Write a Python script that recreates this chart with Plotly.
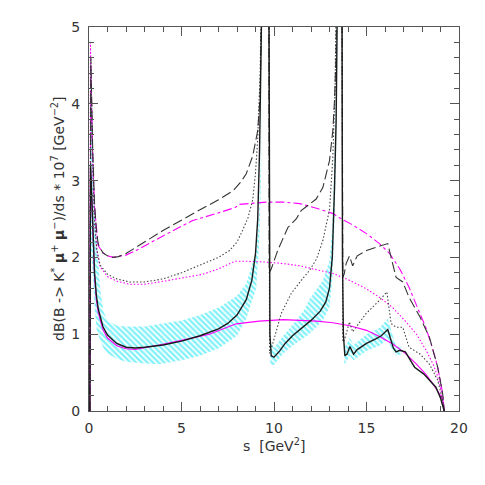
import plotly.graph_objects as go

# ---------------- data ----------------
# black solid: SM with resonances (central)
s_solid = [0.045, 0.06, 0.08, 0.12, 0.2, 0.3, 0.4, 0.5, 0.75, 1.0, 1.5, 2.0, 2.5, 3.0, 4.0, 5.0, 6.0, 7.0, 7.5, 8.0,
           8.5, 8.8, 9.0, 9.12, 9.22, 9.3, 9.38, 9.72, 9.74, 9.78, 9.85, 10.0, 10.3, 10.6, 11.0, 11.5, 12.0, 12.5,
           12.8, 13.0, 13.15, 13.27, 13.36, 13.45, 13.67, 13.7, 13.75, 13.83, 13.95, 14.1, 14.3, 14.5, 15.0, 15.5,
           15.8, 16.15, 16.3, 16.45, 16.6, 16.8, 17.1, 17.4, 17.6, 18.1, 18.5, 18.75, 19.0, 19.2]
y_solid = [0, 2.0, 3.2, 3.0, 2.45, 1.8, 1.5, 1.33, 1.1, 0.99, 0.88, 0.83, 0.82, 0.83, 0.86, 0.91, 0.98, 1.07, 1.14, 1.25,
           1.45, 1.7, 2.05, 2.5, 3.4, 4.3, 6, 6, 2.0, 1.0, 0.72, 0.70, 0.78, 0.88, 0.98, 1.08, 1.18, 1.3,
           1.42, 1.6, 2.0, 2.9, 3.8, 6, 6, 2.0, 1.0, 0.72, 0.74, 0.84, 0.74, 0.80, 0.88, 0.94,
           0.98, 1.06, 0.95, 0.82, 0.77, 0.79, 0.77, 0.65, 0.57, 0.48, 0.38, 0.31, 0.17, 0]

# black long-dashed
s_dash = [0.045, 0.06, 0.1, 0.2, 0.3, 0.4, 0.5, 0.75, 1.0, 1.3, 1.6, 2.0, 2.5, 3.0, 4.0, 5.0, 5.6, 6.0, 7.0, 7.5,
          7.8, 8.2, 8.5, 8.85, 9.12, 9.25, 9.32, 9.38, 9.72, 9.74, 9.85, 10.2, 10.75, 11.2, 11.47, 12.1, 12.28,
          12.64, 12.8, 13.0, 13.18, 13.27, 13.35, 13.42, 13.67, 13.72, 13.8, 13.9, 14.08, 14.25, 14.5, 15.0, 15.5,
          16.15, 16.33, 16.6, 16.96, 17.3, 17.9, 18.4, 18.85, 19.12, 19.2]
y_dash = [0, 4.0, 4.6, 3.4, 2.7, 2.35, 2.17, 2.06, 2.02, 2.0, 2.01, 2.05, 2.12, 2.2, 2.35, 2.49, 2.57, 2.62, 2.75, 2.82,
          2.87, 2.98, 3.09, 3.32, 3.65, 4.1, 4.7, 6, 6, 1.8, 1.85, 2.09, 2.39, 2.5, 2.61, 2.72, 2.76,
          2.91, 3.05, 3.26, 3.65, 4.04, 4.6, 6, 6, 1.74, 1.79, 1.92, 2.02, 1.89, 2.02, 2.09, 2.13,
          2.18, 2.0, 1.74, 1.68, 1.48, 1.22, 0.96, 0.57, 0.22, 0]

# black dotted
s_dot = [0.045, 0.06, 0.1, 0.2, 0.3, 0.42, 0.6, 1.0, 1.5, 2.2, 3.0, 4.0, 5.0, 6.0, 7.0, 7.6, 8.0, 8.3, 8.6, 8.85,
         9.0, 9.12, 9.25, 9.35, 9.72, 9.76, 9.93, 10.39, 10.93, 11.47, 11.92, 12.3, 12.64, 13.0, 13.18, 13.3,
         13.4, 13.67, 13.72, 13.8, 14.08, 14.25, 14.98, 15.7, 16.1, 16.33, 16.6, 16.96, 17.3, 17.9, 18.4, 18.85,
         19.12, 19.2]
y_dot = [0, 4.0, 4.5, 3.3, 2.45, 2.1, 1.9, 1.78, 1.72, 1.68, 1.68, 1.72, 1.8, 1.9, 2.0, 2.09, 2.2, 2.35, 2.52, 2.75,
         3.1, 3.55, 4.4, 6, 6, 0.75, 0.875, 1.27, 1.53, 1.70, 1.83, 1.98, 2.22, 2.62, 3.3, 4.2,
         6, 6, 0.9, 0.92, 1.16, 1.03, 1.27, 1.44, 1.55, 1.14, 1.09, 1.09, 0.83, 0.74, 0.61, 0.40,
         0.13, 0]

# magenta dash (no resonances, upper)
s_mdash = [0.045, 0.06, 0.1, 0.2, 0.3, 0.5, 0.75, 1.0, 1.3, 2.0, 2.55, 4.0, 5.6, 7.0, 7.9, 8.14, 9.0, 9.58, 10.5,
           11.4, 12.3, 13.2, 13.5, 14.2, 15.0, 15.7, 16.25, 16.8, 17.3, 17.8, 18.2, 18.5, 18.75, 18.95, 19.12, 19.2]
y_mdash = [0, 4.0, 4.5, 3.3, 2.65, 2.15, 2.06, 2.02, 2.0, 2.03, 2.09, 2.28, 2.48, 2.58, 2.65, 2.69, 2.71, 2.72, 2.72,
           2.70, 2.64, 2.57, 2.52, 2.43, 2.31, 2.18, 2.05, 1.85, 1.61, 1.33, 1.09, 0.87, 0.66, 0.45, 0.22, 0]

# magenta dotted (no resonances, middle)
s_mdot = [0.045, 0.06, 0.08, 0.15, 0.25, 0.42, 0.6, 1.0, 1.5, 2.2, 3.0, 3.8, 5.0, 6.15, 7.0, 7.9, 8.5, 9.5, 10.5,
          11.4, 12.3, 13.2, 14.1, 15.0, 15.7, 16.4, 17.1, 17.7, 18.2, 18.6, 18.85, 19.03, 19.2]
y_mdot = [0, 4.0, 4.8, 3.8, 2.8, 2.1, 1.88, 1.75, 1.69, 1.65, 1.65, 1.68, 1.73, 1.78, 1.85, 1.95, 1.95, 1.94, 1.92,
          1.89, 1.84, 1.79, 1.70, 1.59, 1.48, 1.35, 1.17, 1.0, 0.8, 0.61, 0.45, 0.27, 0]

# magenta solid (no resonances, central)
s_msol = [0.045, 0.06, 0.08, 0.12, 0.2, 0.3, 0.4, 0.5, 0.75, 1.0, 1.5, 2.0, 2.5, 3.0, 3.8, 5.0, 6.5, 7.96, 9.2,
          10.5, 11.4, 12.3, 13.18, 14.1, 15.0, 15.7, 16.4, 17.1, 17.7, 18.2, 18.6, 18.9, 19.12, 19.2]
y_msol = [0, 2.2, 3.15, 2.9, 2.35, 1.75, 1.45, 1.28, 1.06, 0.95, 0.85, 0.81, 0.80, 0.82, 0.86, 0.92, 1.0, 1.135, 1.17,
          1.19, 1.18, 1.17, 1.15, 1.11, 1.05, 0.97, 0.875, 0.75, 0.61, 0.48, 0.35, 0.24, 0.14, 0]

# cyan uncertainty band, three pieces (upper / lower edges)
s_band1 = [0.06, 0.08, 0.12, 0.2, 0.3, 0.42, 0.6, 0.78, 1.0, 1.5, 2.0, 3.0, 3.8, 5.0, 6.0, 7.05, 8.0, 8.5, 9.04,
           9.2, 9.3, 9.4]
up_band1 = [3.0, 4.7, 4.2, 3.3, 2.6, 2.2, 1.6, 1.3, 1.18, 1.11, 1.10, 1.10, 1.13, 1.18, 1.25, 1.35, 1.5, 1.66, 2.09,
            2.6, 3.4, 6]
lo_band1 = [1.5, 2.2, 2.1, 1.8, 1.35, 1.05, 0.92, 0.82, 0.75, 0.68, 0.64, 0.62, 0.61, 0.66, 0.72, 0.82, 0.98, 1.2,
            1.6, 2.2, 3.0, 5.0]

s_band2 = [9.8, 10.0, 10.5, 11.0, 11.65, 11.9, 12.64, 13.0, 13.15, 13.27, 13.36, 13.44]
up_band2 = [0.9, 0.82, 0.98, 1.12, 1.32, 1.45, 1.7, 1.96, 2.4, 3.3, 4.3, 6]
lo_band2 = [0.6, 0.6, 0.75, 0.85, 0.96, 1.0, 1.18, 1.35, 1.7, 2.45, 3.4, 5.0]

s_band3 = [13.8, 14.1, 14.3, 15.0, 15.7, 16.15, 16.4, 16.6, 16.9]
up_band3 = [0.82, 0.95, 0.86, 1.0, 1.08, 1.2, 1.0, 0.84, 0.84]
lo_band3 = [0.6, 0.72, 0.66, 0.78, 0.85, 0.93, 0.78, 0.72, 0.74]

x_ticks = [0, 5, 10, 15, 20]
y_ticks = [0, 1, 2, 3, 4, 5]

# ---------------- figure ----------------
fig = go.Figure()

CYAN = "#00e4f4"
for s_b, up_b, lo_b in [(s_band1, up_band1, lo_band1), (s_band2, up_band2, lo_band2), (s_band3, up_band3, lo_band3)]:
    fig.add_trace(go.Scatter(
        x=s_b + s_b[::-1], y=up_b + lo_b[::-1], mode="lines", fill="toself",
        line=dict(width=0, color="rgba(0,0,0,0)"),
        fillcolor="rgba(0,0,0,0)",
        fillpattern=dict(shape="\\", fgcolor=CYAN, bgcolor="rgba(0,0,0,0)", size=4, solidity=0.55),
        hoverinfo="skip", showlegend=False))

MAG = "#ff00ff"
fig.add_trace(go.Scatter(x=s_msol, y=y_msol, mode="lines", line=dict(color=MAG, width=1.1), showlegend=False))
fig.add_trace(go.Scatter(x=s_mdot, y=y_mdot, mode="lines", line=dict(color=MAG, width=1.1, dash="1.5px,2px"), showlegend=False))
fig.add_trace(go.Scatter(x=s_mdash, y=y_mdash, mode="lines", line=dict(color=MAG, width=1.1, dash="9px,3px,3px,3px"), showlegend=False))
fig.add_trace(go.Scatter(x=s_dot, y=y_dot, mode="lines", line=dict(color="#444444", width=1.1, dash="1.5px,2px"), showlegend=False))
fig.add_trace(go.Scatter(x=s_dash, y=y_dash, mode="lines", line=dict(color="#333333", width=1.1, dash="10px,4px"), showlegend=False))
fig.add_trace(go.Scatter(x=s_solid, y=y_solid, mode="lines", line=dict(color="#1a1a1a", width=1.4), showlegend=False))

axis_common = dict(
    showgrid=False, zeroline=False, showline=True, linecolor="#555555", linewidth=1.3,
    mirror="ticks", ticks="inside", tickcolor="#555555", tickwidth=1,
    tickfont=dict(family="DejaVu Sans", size=14, color="#333333"),
)
fig.update_xaxes(range=[0, 20], tickvals=x_ticks, ticklen=9,
                 minor=dict(dtick=1, ticks="inside", ticklen=5, tickcolor="#555555", showgrid=False),
                 ticklabelstandoff=4, **axis_common)
fig.update_yaxes(range=[0, 5], tickvals=y_ticks, ticklen=9,
                 minor=dict(dtick=0.2, ticks="inside", ticklen=5, tickcolor="#555555", showgrid=False),
                 ticklabelstandoff=5, **axis_common)

# the page body adds an 8 px offset; the figure is shrunk accordingly
fig.update_layout(
    width=477, height=477, autosize=False,
    margin=dict(l=81, r=26, t=19, b=74),
    plot_bgcolor="white", paper_bgcolor="white",
    annotations=[
        dict(text="s  [GeV<sup>2</sup>]", xref="paper", yref="paper", x=0.5, y=-0.088,
             xanchor="center", yanchor="middle", showarrow=False,
             font=dict(family="DejaVu Sans", size=14, color="#333333")),
        dict(text="dB(B -> K<sup>*</sup> <b>μ</b><sup>+</sup> <b>μ</b><sup>−</sup>)/ds * 10<sup>7</sup> [GeV<sup>−2</sup>]",
             xref="paper", yref="paper", x=-0.084, y=0.5, textangle=-90,
             xanchor="center", yanchor="middle", showarrow=False,
             font=dict(family="DejaVu Sans", size=14, color="#333333")),
    ],
)

fig.write_html("out.html")
